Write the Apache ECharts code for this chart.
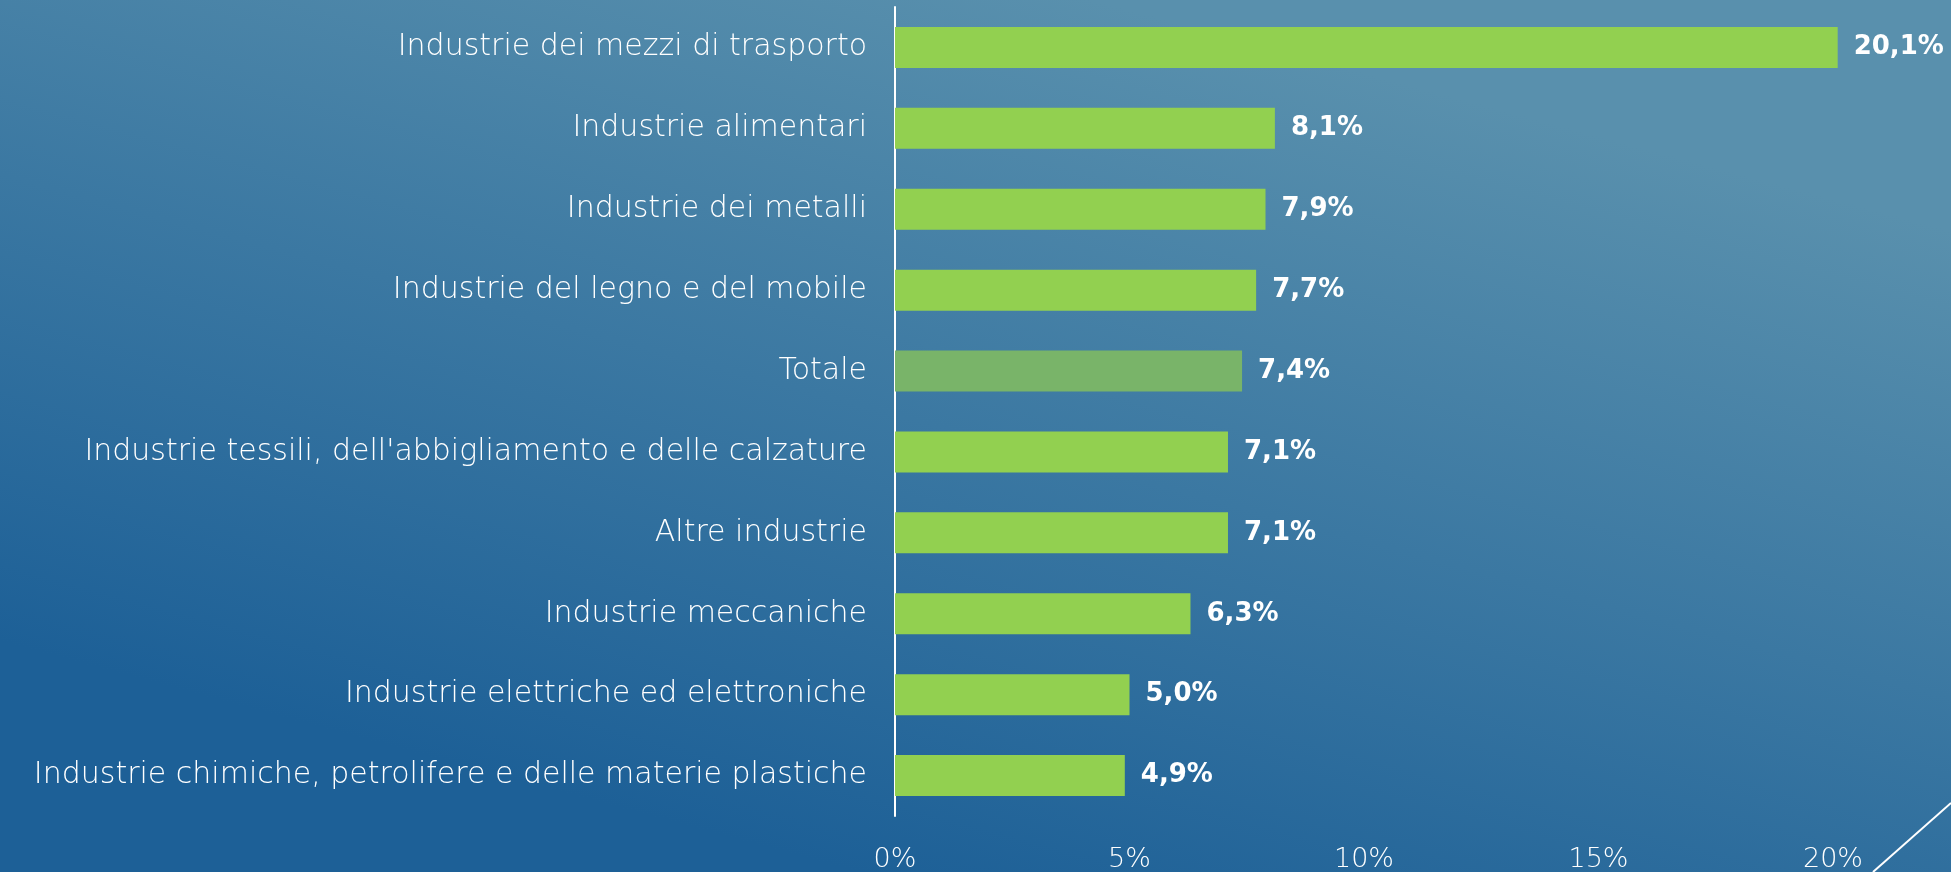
<!DOCTYPE html>
<html>
<head>
<meta charset="utf-8">
<script src="https://cdn.jsdelivr.net/npm/echarts@6/dist/echarts.min.js"></script>
<style>
    html, body { margin: 0; padding: 0; }
    #chart { width: 1951px; height: 872px; }
</style>
</head>
<body>
<div id="chart"></div>
<script>
// categorie, dall'alto verso il basso
var categories = [
    'Industrie dei mezzi di trasporto',
    'Industrie alimentari',
    'Industrie dei metalli',
    'Industrie del legno e del mobile',
    'Totale',
    "Industrie tessili, dell'abbigliamento e delle calzature",
    'Altre industrie',
    'Industrie meccaniche',
    'Industrie elettriche ed elettroniche',
    'Industrie chimiche, petrolifere e delle materie plastiche'
];
var values = [20.1, 8.1, 7.9, 7.7, 7.4, 7.1, 7.1, 6.3, 5.0, 4.9];
var tickLabels = ['0%', '5%', '10%', '15%', '20%'];

window.onload = function () {
    initChart();
}

function initChart() {
    var chart = echarts.init(document.getElementById('chart'));
    // il Totale ha un verde più spento
    var data = values.map(function (v, i) {
        return {
            value: v,
            itemStyle: { color: categories[i] === 'Totale' ? '#79b469' : '#92d050' }
        };
    });
    chart.setOption({
        // sfondo: chiaro in alto, blu scuro in basso, leggermente inclinato
        backgroundColor: {
            type: 'linear', x: 0.56, y: 0, x2: 0.44, y2: 1,
            colorStops: [
                { offset: 0, color: '#5990ad' },
                { offset: 1, color: '#1d6097' }
            ]
        },
        grid: { left: 895, right: 118, top: 7, bottom: 56, outerBoundsMode: 'none' },
        xAxis: {
            type: 'value',
            min: 0,
            max: 20,
            interval: 5,
            axisLine: { show: false },
            axisTick: { show: false },
            splitLine: { show: false },
            axisLabel: {
                color: '#ffffff',
                fontFamily: 'DejaVu Sans',
                fontWeight: 200,
                fontSize: 27,
                margin: 30,
                formatter: function (v) { return tickLabels[v / 5]; }
            }
        },
        yAxis: {
            type: 'category',
            inverse: true,
            data: categories,
            axisLine: { show: true, lineStyle: { color: '#ffffff', width: 2 } },
            axisTick: { show: false },
            axisLabel: {
                color: '#ffffff',
                fontFamily: 'DejaVu Sans',
                fontWeight: 200,
                fontSize: 30,
                margin: 28
            }
        },
        series: [{
            type: 'bar',
            data: data,
            barWidth: 41,
            clip: false,
            label: {
                show: true,
                position: 'right',
                distance: 16,
                color: '#ffffff',
                fontFamily: 'DejaVu Sans',
                fontWeight: 'bold',
                fontSize: 26,
                formatter: function (p) { return p.value.toFixed(1).replace('.', ',') + '%'; }
            }
        }],
        graphic: [{
            type: 'line',
            shape: { x1: 1951, y1: 803, x2: 1873, y2: 872 },
            style: { stroke: '#ffffff', lineWidth: 2 }
        }]
    });
}
</script>
</body>
</html>
